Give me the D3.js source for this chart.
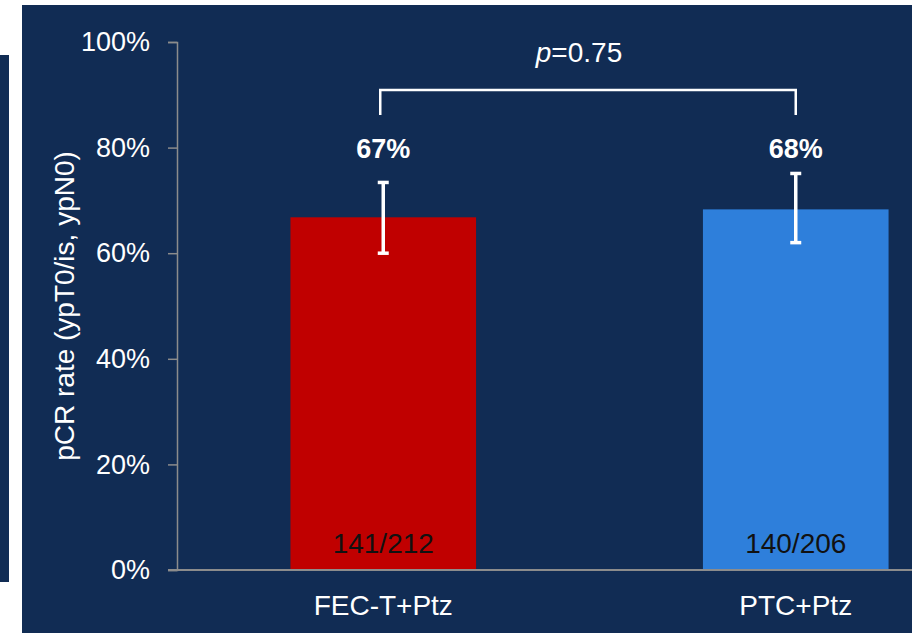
<!DOCTYPE html>
<html><head><meta charset="utf-8">
<script src="https://cdn.jsdelivr.net/npm/d3@7/dist/d3.min.js"></script>
<style>body{margin:0;background:#fff;}svg{display:block;font-family:"Liberation Sans",Arial,sans-serif;}</style>
</head><body>
<svg id="c" width="917" height="633"></svg>
<script>
const categories = ["FEC-T+Ptz", "PTC+Ptz"];
const rates = [66.8, 68.3];
const rateLabels = ["67%", "68%"];
const errLow = [60.0, 62.0];
const errHigh = [73.4, 75.1];
const counts = ["141/212", "140/206"];
const yTicks = [0, 20, 40, 60, 80, 100];
const pText = "0.75";
const yTitle = "pCR rate (ypT0/is, ypN0)";
const colors = ["#c00000", "#2e7fdb"];

const svg = d3.select("#c");
const navy = "#112c54";
svg.append("rect").attr("x", 0).attr("y", 55).attr("width", 9).attr("height", 527).attr("fill", navy);
svg.append("rect").attr("x", 22).attr("y", 5).attr("width", 890).attr("height", 628).attr("fill", navy);

const y = d3.scaleLinear().domain([0, 100]).range([570, 42]);
const x = d3.scaleBand().domain(categories).range([177, 1002]).paddingInner(0.55).paddingOuter(0.275);

// bars
svg.selectAll("rect.bar").data(categories).enter().append("rect")
  .attr("class", "bar")
  .attr("x", d => x(d)).attr("width", x.bandwidth())
  .attr("y", (d, i) => y(rates[i])).attr("height", (d, i) => y(0) - y(rates[i]))
  .attr("fill", (d, i) => colors[i]);

// y axis
const yAxis = d3.axisLeft(y).tickValues(yTicks).tickFormat(d => d + "%").tickSize(9).tickPadding(18);
const ga = svg.append("g").attr("transform", "translate(177,0)").call(yAxis);
ga.select(".domain").attr("stroke", "#8c8c8c").attr("stroke-width", 1.5);
ga.selectAll(".tick line").attr("stroke", "#8c8c8c").attr("stroke-width", 1.5);
ga.selectAll(".tick text").attr("fill", "#fff").attr("font-size", 27).attr("font-family", "Liberation Sans, Arial, sans-serif");

// x axis line
svg.append("line").attr("x1", 168).attr("x2", 912).attr("y1", y(0)).attr("y2", y(0))
  .attr("stroke", "#8c8c8c").attr("stroke-width", 2);

// category labels
svg.selectAll("text.cat").data(categories).enter().append("text")
  .attr("x", d => x(d) + x.bandwidth() / 2).attr("y", 615)
  .attr("text-anchor", "middle").attr("fill", "#fff").attr("font-size", 28).text(d => d);

// counts
svg.selectAll("text.cnt").data(counts).enter().append("text")
  .attr("x", (d, i) => x(categories[i]) + x.bandwidth() / 2).attr("y", 553)
  .attr("text-anchor", "middle").attr("fill", "#111").attr("font-size", 28).text(d => d);

// error bars
categories.forEach((c, i) => {
  const cx = x(c) + x.bandwidth() / 2;
  const g = svg.append("g").attr("stroke", "#fff").attr("stroke-width", 3.5);
  g.append("line").attr("x1", cx).attr("x2", cx).attr("y1", y(errLow[i])).attr("y2", y(errHigh[i]));
  g.append("line").attr("x1", cx - 5.5).attr("x2", cx + 5.5).attr("y1", y(errLow[i])).attr("y2", y(errLow[i]));
  g.append("line").attr("x1", cx - 5.5).attr("x2", cx + 5.5).attr("y1", y(errHigh[i])).attr("y2", y(errHigh[i]));
  svg.append("text").attr("x", cx).attr("y", 158).attr("text-anchor", "middle")
    .attr("fill", "#fff").attr("font-size", 27).attr("font-weight", "bold").text(rateLabels[i]);
});

// bracket
const c0 = x(categories[0]) + x.bandwidth() / 2 - 3, c1 = x(categories[1]) + x.bandwidth() / 2;
svg.append("path").attr("d", `M${c0},115V90H${c1}V115`).attr("fill", "none")
  .attr("stroke", "#fff").attr("stroke-width", 2.5);
const pt = svg.append("text").attr("x", (c0 + c1) / 2 - 9).attr("y", 62).attr("text-anchor", "middle")
  .attr("fill", "#fff").attr("font-size", 28);
pt.append("tspan").attr("font-style", "italic").text("p");
pt.append("tspan").text("=" + pText);

// y title
svg.append("text").attr("transform", "translate(74,306) rotate(-90)").attr("text-anchor", "middle")
  .attr("fill", "#fff").attr("font-size", 28).text(yTitle);
</script>
</body></html>
